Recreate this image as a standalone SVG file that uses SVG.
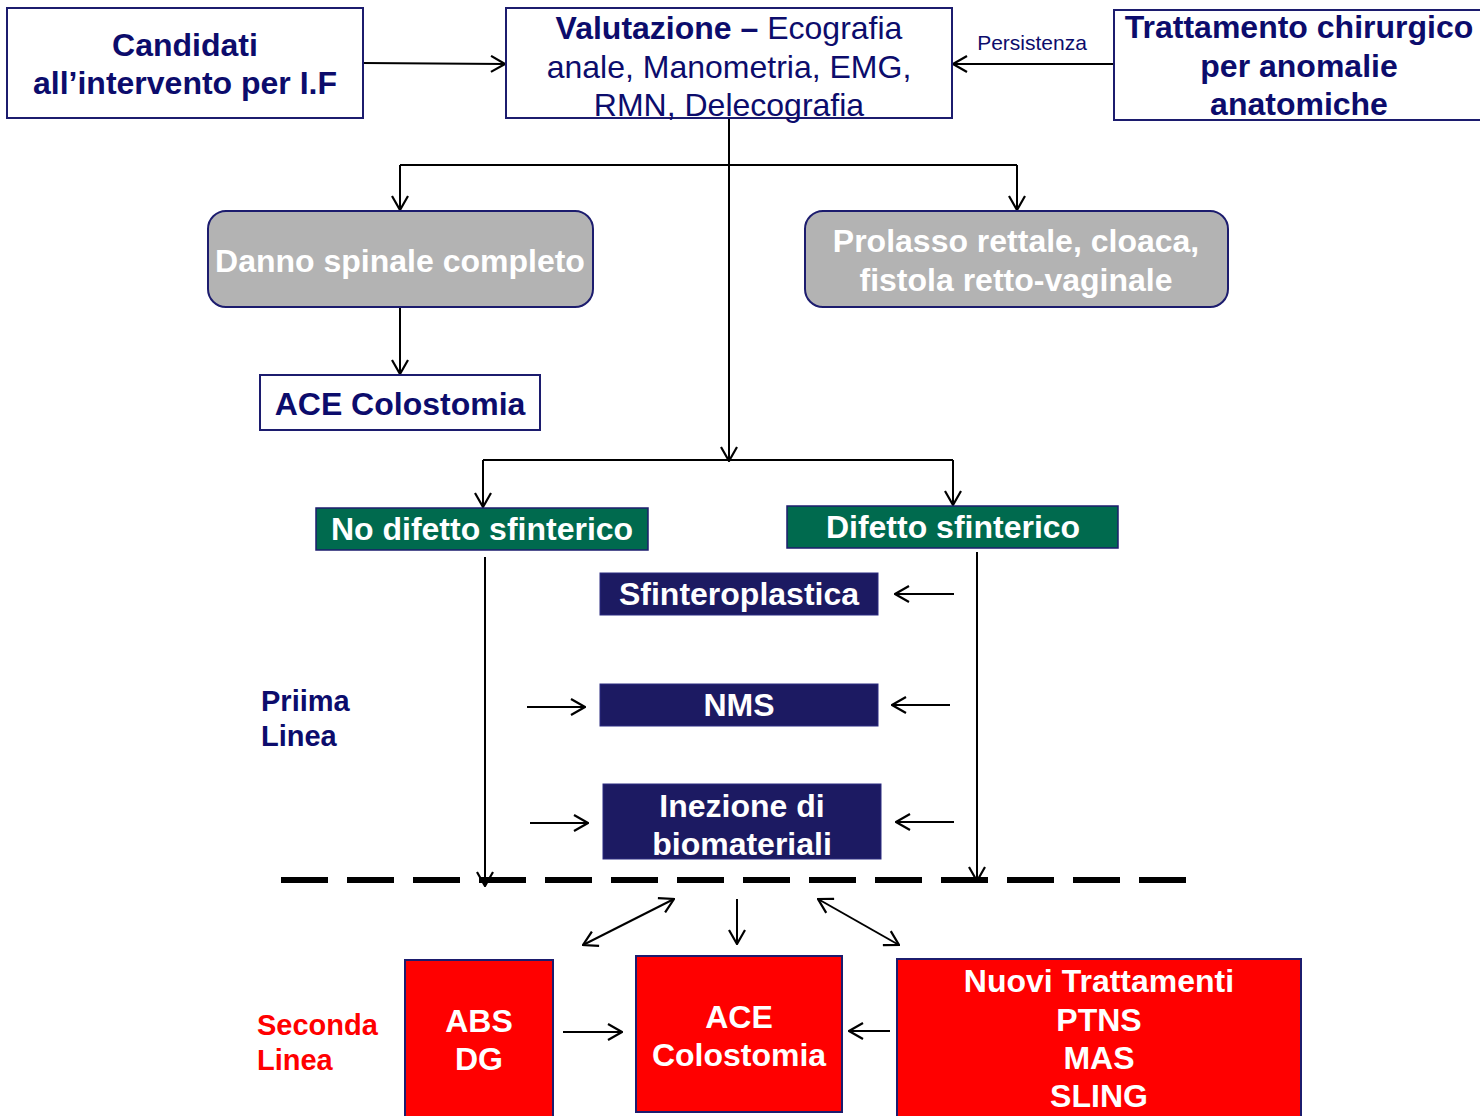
<svg xmlns="http://www.w3.org/2000/svg" width="1480" height="1116" viewBox="0 0 1480 1116">
<defs>
<marker id="ah" viewBox="0 0 16 18" refX="15" refY="9" markerWidth="16" markerHeight="18" markerUnits="userSpaceOnUse" orient="auto-start-reverse">
<path d="M1,1 L15,9 L1,17" fill="none" stroke="#000" stroke-width="2.2"/>
</marker>
<style>
.t{font-family:"Liberation Sans",Arial,sans-serif;text-anchor:middle}
.b{font-weight:bold}
.wb{fill:#fff;stroke:#1c1c6e;stroke-width:2}
.gray{fill:#b3b3b3;stroke:#1c1c6e;stroke-width:2}
.green{fill:#006a4e;stroke:#1c1c6e;stroke-width:1.5}
.navy{fill:#1c1a62;stroke:#2a2a80;stroke-width:1}
.red{fill:#ff0000;stroke:#1c1c6e;stroke-width:2}
.nv{fill:#0c0c6c}
.wt{fill:#fff}
.c{fill:none;stroke:#000;stroke-width:2}
.ca{fill:none;stroke:#000;stroke-width:2;marker-end:url(#ah)}
.cd{fill:none;stroke:#000;stroke-width:2;marker-end:url(#ah);marker-start:url(#ah)}
</style>
</defs>
<rect width="1480" height="1116" fill="#fff"/>

<g id="connectors">
<path class="ca" d="M363,63 L505,64"/>
<path class="ca" d="M1114,64 L953,64"/>
<path class="ca" d="M729,118 L729,461"/>
<path class="c" d="M400,165 L1017,165"/>
<path class="ca" d="M400,165 L400,210"/>
<path class="ca" d="M1017,165 L1017,210"/>
<path class="ca" d="M400,307 L400,374"/>
<path class="c" d="M483,460 L953,460"/>
<path class="ca" d="M483,460 L483,507"/>
<path class="ca" d="M953,460 L953,505"/>
<path class="ca" d="M485,557 L485,886"/>
<path class="ca" d="M977,552 L977,881"/>
<path class="ca" d="M954,594 L895,594"/>
<path class="ca" d="M950,705 L892,705"/>
<path class="ca" d="M954,822 L896,822"/>
<path class="ca" d="M527,707 L585,707"/>
<path class="ca" d="M530,823 L588,823"/>
<path d="M281,880 L1187,880" fill="none" stroke="#000" stroke-width="6" stroke-dasharray="47 19"/>
<path class="cd" d="M583,945 L674,899"/>
<path class="ca" d="M737,899 L737,944"/>
<path class="cd" d="M818,899 L899,945"/>
<path class="ca" d="M563,1032 L622,1032"/>
<path class="ca" d="M890,1031 L849,1031"/>
<text class="t nv" x="1032" y="50" font-size="21">Persistenza</text>
</g>

<g id="candidati">
<rect class="wb" x="7" y="8" width="356" height="110"/>
<text class="t b nv" x="185" y="56" font-size="32">Candidati</text>
<text class="t b nv" x="185" y="94" font-size="32">all’intervento per I.F</text>
</g>

<g id="valutazione">
<rect class="wb" x="506" y="8" width="446" height="110"/>
<text class="t nv" x="729" y="39" font-size="32"><tspan font-weight="bold">Valutazione –</tspan> Ecografia</text>
<text class="t nv" x="729" y="78" font-size="32">anale, Manometria, EMG,</text>
<text class="t nv" x="729" y="116" font-size="32">RMN, Delecografia</text>
</g>

<g id="trattamento">
<rect class="wb" x="1114" y="10" width="370" height="110"/>
<text class="t b nv" x="1299" y="38" font-size="32">Trattamento chirurgico</text>
<text class="t b nv" x="1299" y="77" font-size="32">per anomalie</text>
<text class="t b nv" x="1299" y="115" font-size="32">anatomiche</text>
</g>

<g id="danno">
<rect class="gray" x="208" y="211" width="385" height="96" rx="18"/>
<text class="t b wt" x="400" y="272" font-size="32">Danno spinale completo</text>
</g>

<g id="prolasso">
<rect class="gray" x="805" y="211" width="423" height="96" rx="18"/>
<text class="t b wt" x="1016" y="252" font-size="32">Prolasso rettale, cloaca,</text>
<text class="t b wt" x="1016" y="291" font-size="32">fistola retto-vaginale</text>
</g>

<g id="ace1">
<rect class="wb" x="260" y="375" width="280" height="55"/>
<text class="t b nv" x="400" y="415" font-size="32">ACE Colostomia</text>
</g>

<g id="nodifetto">
<rect class="green" x="316" y="508" width="332" height="42"/>
<text class="t b wt" x="482" y="540" font-size="32">No difetto sfinterico</text>
</g>

<g id="difetto">
<rect class="green" x="787" y="506" width="331" height="42"/>
<text class="t b wt" x="953" y="538" font-size="32">Difetto sfinterico</text>
</g>

<g id="sfinteroplastica">
<rect class="navy" x="600" y="573" width="278" height="42"/>
<text class="t b wt" x="739" y="605" font-size="32">Sfinteroplastica</text>
</g>

<g id="nms">
<rect class="navy" x="600" y="684" width="278" height="42"/>
<text class="t b wt" x="739" y="716" font-size="32">NMS</text>
</g>

<g id="inezione">
<rect class="navy" x="603" y="784" width="278" height="75"/>
<text class="t b wt" x="742" y="817" font-size="32">Inezione di</text>
<text class="t b wt" x="742" y="855" font-size="32">biomateriali</text>
</g>

<g id="prima">
<text x="261" y="711" font-size="29" font-family="Liberation Sans,Arial,sans-serif" font-weight="bold" fill="#0c0c6c">Priima</text>
<text x="261" y="746" font-size="29" font-family="Liberation Sans,Arial,sans-serif" font-weight="bold" fill="#0c0c6c">Linea</text>
</g>

<g id="seconda">
<text x="257" y="1035" font-size="29" font-family="Liberation Sans,Arial,sans-serif" font-weight="bold" fill="#ff0000">Seconda</text>
<text x="257" y="1070" font-size="29" font-family="Liberation Sans,Arial,sans-serif" font-weight="bold" fill="#ff0000">Linea</text>
</g>

<g id="absdg">
<rect class="red" x="405" y="960" width="148" height="160"/>
<text class="t b wt" x="479" y="1032" font-size="32">ABS</text>
<text class="t b wt" x="479" y="1070" font-size="32">DG</text>
</g>

<g id="ace2">
<rect class="red" x="636" y="956" width="206" height="156"/>
<text class="t b wt" x="739" y="1028" font-size="32">ACE</text>
<text class="t b wt" x="739" y="1066" font-size="32">Colostomia</text>
</g>

<g id="nuovi">
<rect class="red" x="897" y="959" width="404" height="160"/>
<text class="t b wt" x="1099" y="992" font-size="32">Nuovi Trattamenti</text>
<text class="t b wt" x="1099" y="1031" font-size="32">PTNS</text>
<text class="t b wt" x="1099" y="1069" font-size="32">MAS</text>
<text class="t b wt" x="1099" y="1107" font-size="32">SLING</text>
</g>
</svg>
